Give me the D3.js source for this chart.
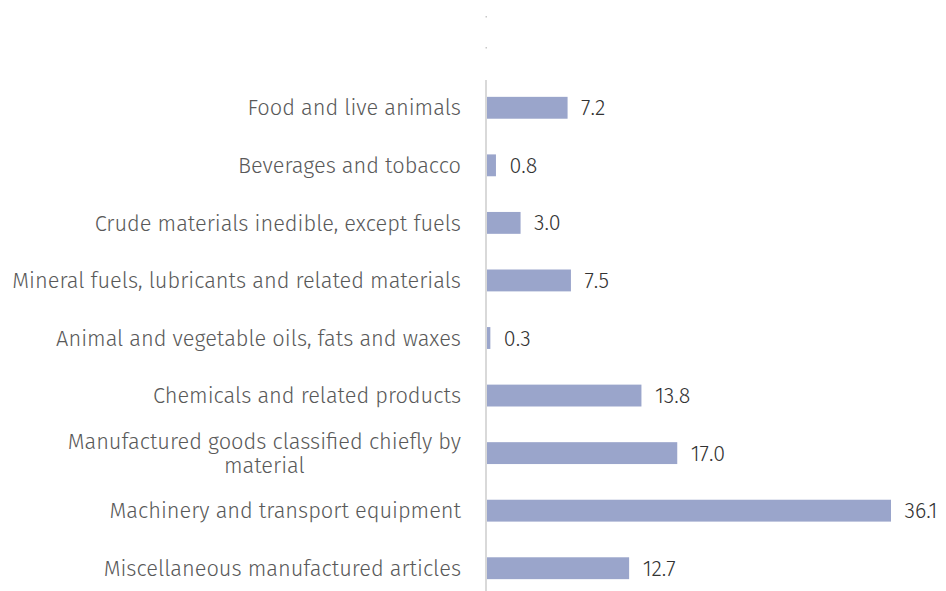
<!DOCTYPE html>
<html><head><meta charset="utf-8">
<script src="https://cdn.jsdelivr.net/npm/d3@7"></script>
<style>body{margin:0;background:#fff}svg{display:block}</style>
</head><body>
<svg id="c" width="946" height="591"></svg>
<script>
const categories = ["Food and live animals","Beverages and tobacco","Crude materials inedible, except fuels","Mineral fuels, lubricants and related materials","Animal and vegetable oils, fats and waxes","Chemicals and related products","Manufactured goods classified chiefly by|material","Machinery and transport equipment","Miscellaneous manufactured articles"];
const values = [7.2,0.8,3.0,7.5,0.3,13.8,17.0,36.1,12.7];

const svg = d3.select("#c");
const font = "'Fira Sans','Noto Sans',sans-serif";
const x = d3.scaleLinear().domain([0,36.1]).range([487,891]);
const y = d3.scaleBand().domain(categories).range([79,597]).paddingInner(0.62).paddingOuter(0.31);

[17,48].forEach(v=>svg.append("rect").attr("x",485.5).attr("y",v-1).attr("width",1.5).attr("height",1.5).attr("fill","#c8c8c8"));

svg.append("g").selectAll("rect").data(values).join("rect")
  .attr("x",x(0)).attr("y",(d,i)=>y(categories[i]))
  .attr("width",d=>x(d)-x(0)).attr("height",y.bandwidth()).attr("fill","#9aa5cb");

svg.append("line").attr("x1",486).attr("x2",486).attr("y1",80).attr("y2",591)
  .attr("stroke","#d9d9d9").attr("stroke-width",2);

svg.append("g").selectAll("text").data(values).join("text")
  .attr("x",d=>x(d)+13.5).attr("y",(d,i)=>y(categories[i])+y.bandwidth()/2)
  .attr("dy","0.35em").attr("font-family",font).attr("font-size",21.5).attr("font-weight",300).attr("fill","#333333")
  .text(d=>d.toFixed(1));

const lab = svg.append("g").attr("font-family",font).attr("font-size",21.8).attr("font-weight",300).attr("fill","#595959");
categories.forEach((c,i)=>{
  const cy = y(c)+y.bandwidth()/2;
  const parts = c.split("|");
  if(parts.length===1){
    lab.append("text").attr("x",461).attr("y",cy).attr("dy","0.35em").attr("text-anchor","end").text(c);
  } else {
    const t1 = lab.append("text").attr("x",461).attr("y",cy-12).attr("dy","0.35em").attr("text-anchor","end").text(parts[0]);
    const w = t1.node().getComputedTextLength();
    lab.append("text").attr("x",461-w/2).attr("y",cy+12).attr("dy","0.35em").attr("text-anchor","middle").text(parts[1]);
  }
});
</script>
</body></html>
